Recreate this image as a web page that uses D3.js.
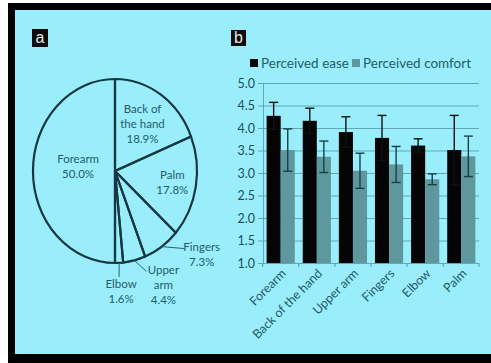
<!DOCTYPE html>
<html>
<head>
<meta charset="utf-8">
<script src="https://cdn.jsdelivr.net/npm/d3@7"></script>
<style>
  body { margin: 0; background: #fff; }
  text { font-family: Lato, "Open Sans", sans-serif; }
</style>
</head>
<body>
<div id="chart"></div>
<script>
// Panel a: share of preferred body locations
const pieNames = ['Back of the hand', 'Palm', 'Fingers', 'Upper arm', 'Elbow', 'Forearm'];
const pieShares = [18.9, 17.8, 7.3, 4.4, 1.6, 50.0];

// Panel b: perceived ease / comfort (mean and error)
const barCats = ['Forearm', 'Back of the hand', 'Upper arm', 'Fingers', 'Elbow', 'Palm'];
const easeMean = [4.27, 4.16, 3.91, 3.78, 3.61, 3.51];
const easeErr = [0.30, 0.28, 0.34, 0.50, 0.15, 0.77];
const comfortMean = [3.51, 3.36, 3.05, 3.19, 2.86, 3.37];
const comfortErr = [0.47, 0.35, 0.39, 0.40, 0.12, 0.45];
const yTicks = [1.0, 1.5, 2.0, 2.5, 3.0, 3.5, 4.0, 4.5, 5.0];
const seriesNames = ['Perceived ease', 'Perceived comfort'];

const W = 491, H = 363;
const BG = '#9aeefc', TXT = '#245c68', GRID = '#5fa8b4';
const COLORS = ['#050505', '#5e979e'];

const svg = d3.select('#chart').append('svg')
  .attr('width', W).attr('height', H);

// frame
svg.append('rect').attr('x', 8).attr('y', 3).attr('width', W - 8).attr('height', H - 3).attr('fill', '#000');
svg.append('rect').attr('x', 15).attr('y', 10).attr('width', W - 15).attr('height', 344).attr('fill', BG);

// panel tags
function tag(x, y, w, h, t) {
  svg.append('rect').attr('x', x).attr('y', y).attr('width', w).attr('height', h).attr('fill', '#0b0b0b');
  svg.append('text').attr('x', x + w / 2).attr('y', y + h / 2 + 5)
    .attr('text-anchor', 'middle').attr('fill', '#e6e6e6')
    .style('font-family', 'Liberation Sans, Arial, sans-serif').style('font-size', '16px').text(t);
}
tag(32, 29, 16, 18, 'a');
tag(231, 30, 15, 16, 'b');

// ---- pie (drawn slightly stretched vertically, like the source) ----
const cx = 115, cy = 171, R = 82, sy = 92 / 82;
const pie = d3.pie().sort(null).value(d => d)(pieShares);
const arc = d3.arc().innerRadius(0).outerRadius(R);
const pg = svg.append('g').attr('transform', `translate(${cx},${cy}) scale(1,${sy})`);
pg.selectAll('path').data(pie).join('path')
  .attr('d', arc)
  .attr('fill', 'none')
  .attr('stroke', '#163842')
  .attr('stroke-width', 2.2)
  .attr('vector-effect', 'non-scaling-stroke')
  .attr('stroke-linejoin', 'round');

// point on the (stretched) pie at angle a, radius r
function polar(a, r) { return [cx + r * Math.sin(a), cy - r * Math.cos(a) * sy]; }
const mid = d => (d.startAngle + d.endAngle) / 2;

// label layout: inner labels use radius factor k, outer ones a leader line
const labelLayout = {
  'Back of the hand': { k: 0.6, lines: ['Back of', 'the hand'], dy: -2 },
  'Palm': { k: 0.71, lines: ['Palm'], dy: 0 },
  'Forearm': { k: 0.45, lines: ['Forearm'], dy: -5 },
  'Fingers': { leader: [23, 2], text: [40, 0], lines: ['Fingers'] },
  'Upper arm': { leader: [12, 11], text: [29, 9], lines: ['Upper', 'arm'] },
  'Elbow': { leader: [0, 14], text: [2, 21], lines: ['Elbow'] }
};
const lg = svg.append('g').attr('fill', TXT).style('font-size', '11.5px');
pie.forEach((d, i) => {
  const name = pieNames[i], L = labelLayout[name];
  const lines = L.lines.concat([d3.format('.1f')(pieShares[i]) + '%']);
  let tx, ty;
  if (L.leader) {
    const p = polar(mid(d), R);
    svg.append('path')
      .attr('d', `M${p[0]},${p[1]} L${p[0] + L.leader[0]},${p[1] + L.leader[1]}`)
      .attr('fill', 'none').attr('stroke', '#2d5f69').attr('stroke-width', 1);
    tx = p[0] + L.text[0]; ty = p[1] + L.text[1];
  } else {
    const p = polar(mid(d), L.k * R);
    tx = p[0]; ty = p[1] + L.dy - (lines.length - 1) * 15 / 2;
  }
  lines.forEach((s, j) => {
    lg.append('text').attr('x', tx).attr('y', ty + j * 15)
      .attr('text-anchor', 'middle').attr('dominant-baseline', 'central').text(s);
  });
});

// ---- bar chart ----
const x0 = d3.scaleBand().domain(barCats).range([263, 479]).paddingInner(0.22).paddingOuter(0.1);
const x1 = d3.scaleBand().domain(seriesNames).range([0, x0.bandwidth()]);
const y = d3.scaleLinear().domain([1, 5]).range([263, 83]);

const bg = svg.append('g');
// grid + y axis
bg.append('g').attr('transform', 'translate(263,0)')
  .call(d3.axisLeft(y).tickValues(yTicks).tickFormat(d3.format('.1f')).tickSize(-216).tickPadding(8))
  .call(g => g.select('.domain').attr('stroke', GRID))
  .call(g => g.selectAll('.tick line').attr('stroke', GRID).attr('x1', -5).attr('stroke-width', 1.2))
  .call(g => g.selectAll('.tick text').attr('fill', '#1d4f5a').style('font-size', '12.5px').style('font-family', 'Lato, sans-serif'));

// x axis ticks at category boundaries
const bounds = barCats.map(c => x0(c) - x0.step() * x0.paddingInner() / 2).concat([479]);
bg.selectAll('line.xt').data(bounds).join('line')
  .attr('x1', d => d).attr('x2', d => d).attr('y1', 263).attr('y2', 267)
  .attr('stroke', GRID).attr('stroke-width', 1.2);

const series = [
  { mean: easeMean, err: easeErr, err_c: '#111' },
  { mean: comfortMean, err: comfortErr, err_c: '#183f46' }
];
series.forEach((s, si) => {
  const key = seriesNames[si];
  bg.selectAll(null).data(barCats).join('rect')
    .attr('x', c => x0(c) + x1(key))
    .attr('y', (c, i) => y(s.mean[i]))
    .attr('width', x1.bandwidth())
    .attr('height', (c, i) => y(1) - y(s.mean[i]))
    .attr('fill', COLORS[si]);
});
series.forEach((s, si) => {
  const key = seriesNames[si];
  barCats.forEach((c, i) => {
    const xc = x0(c) + x1(key) + x1.bandwidth() / 2;
    const hi = y(s.mean[i] + s.err[i]), lo = y(s.mean[i] - s.err[i]);
    const g = bg.append('g').attr('stroke', s.err_c).attr('stroke-width', 1.4);
    g.append('line').attr('x1', xc).attr('x2', xc).attr('y1', hi).attr('y2', lo);
    g.append('line').attr('x1', xc - 4.5).attr('x2', xc + 4.5).attr('y1', hi).attr('y2', hi);
    g.append('line').attr('x1', xc - 4.5).attr('x2', xc + 4.5).attr('y1', lo).attr('y2', lo);
  });
});

// rotated category labels
bg.selectAll('text.xl').data(barCats).join('text')
  .attr('transform', c => `translate(${x0(c) + x0.bandwidth() / 2 + 3},271) rotate(-45)`)
  .attr('text-anchor', 'end').attr('dominant-baseline', 'central')
  .attr('fill', TXT).style('font-size', '12.5px').text(c => c);

// legend
const leg = svg.append('g').style('font-size', '13.5px');
const legX = [250, 352];
seriesNames.forEach((n, i) => {
  leg.append('rect').attr('x', legX[i]).attr('y', 59).attr('width', 8).attr('height', 8).attr('fill', COLORS[i]);
  leg.append('text').attr('x', legX[i] + 11).attr('y', 68).attr('fill', TXT).text(n);
});
</script>
</body>
</html>
